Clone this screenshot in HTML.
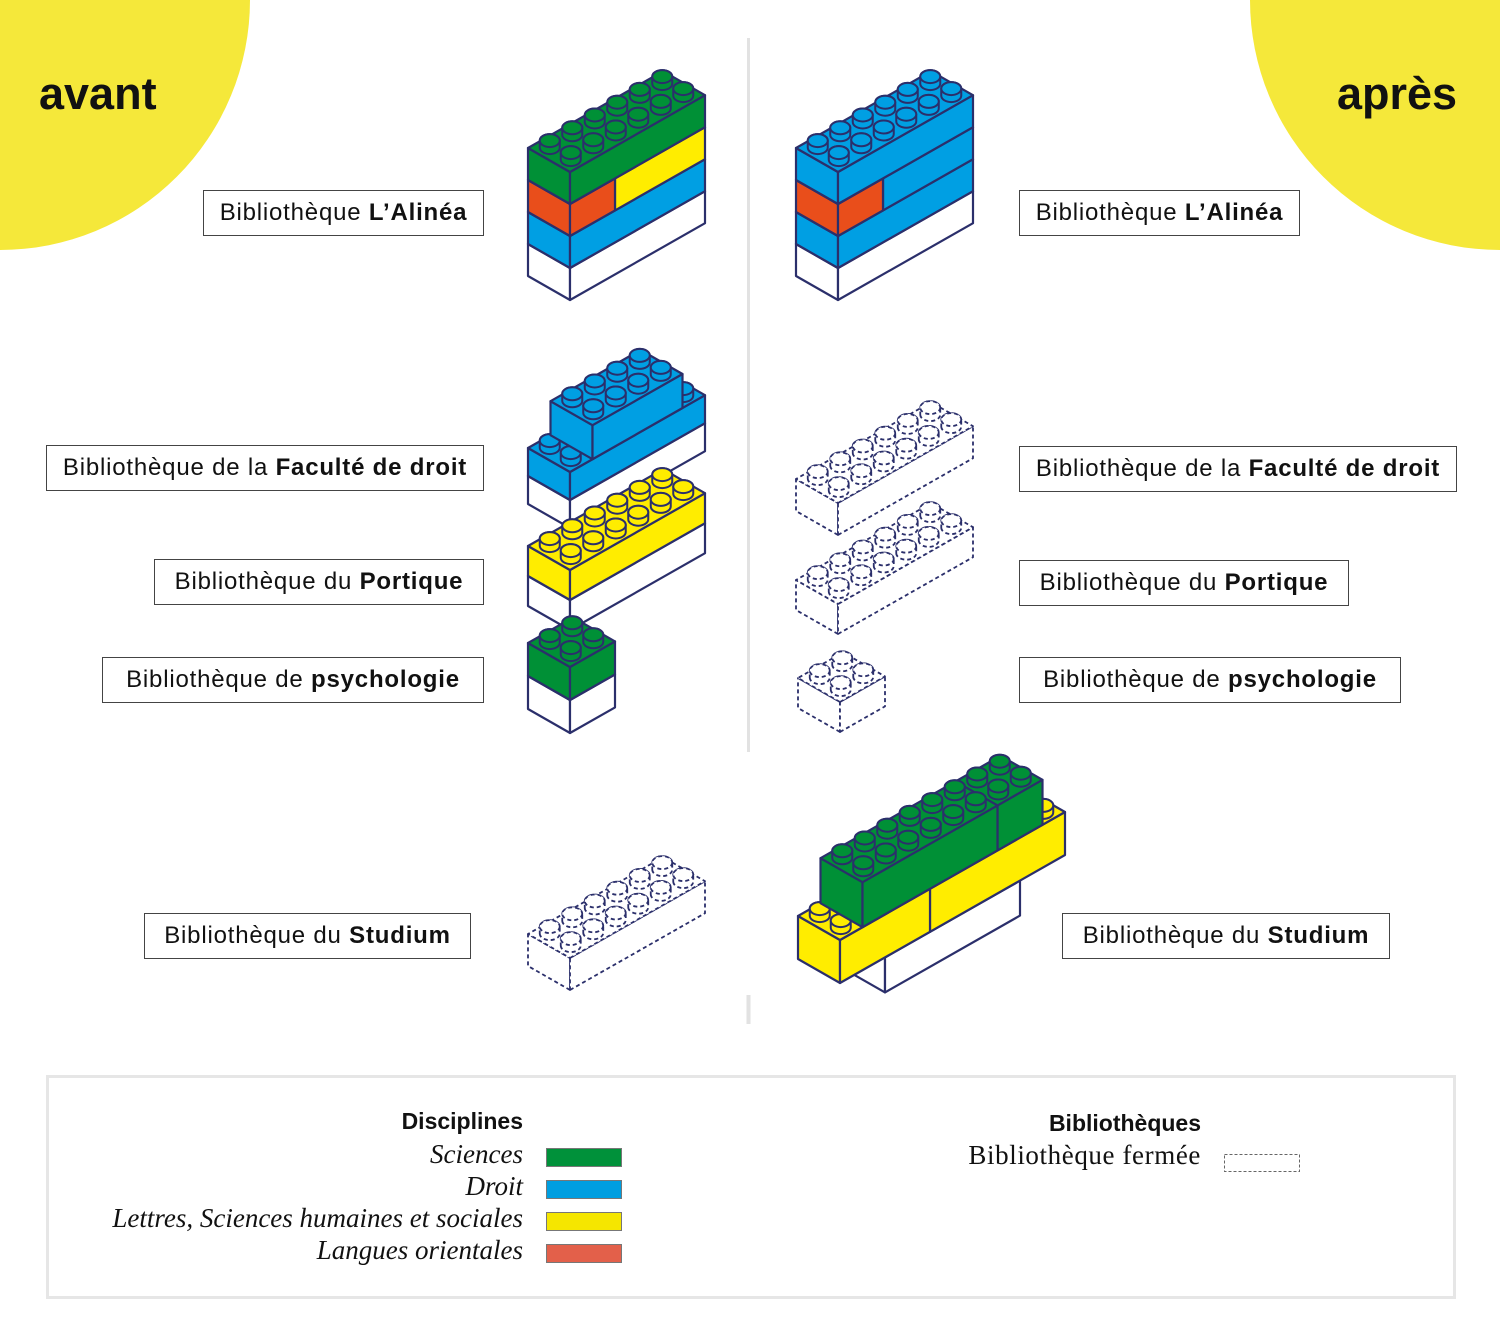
<!DOCTYPE html>
<html><head><meta charset="utf-8">
<style>
html,body{margin:0;padding:0;background:#fff;}
body{width:1500px;height:1333px;position:relative;overflow:hidden;font-family:"Liberation Sans",sans-serif;}
.lbl{position:absolute;border:1px solid #444;height:46px;box-sizing:border-box;font-size:24px;letter-spacing:0.8px;line-height:44px;text-align:center;color:#111;white-space:nowrap;background:#fff;}
.lbl b{font-weight:bold;}
.big{position:absolute;font-weight:bold;font-size:45px;color:#111;}
.lg{position:absolute;font-family:"Liberation Serif",serif;font-style:italic;font-size:27px;color:#111;text-align:right;white-space:nowrap;}
.sw{position:absolute;left:546px;width:74px;height:17px;border:1px solid #777;}
</style></head><body>
<svg id="s" width="1500" height="1333" style="position:absolute;left:0;top:0">
<circle cx="0" cy="0" r="250" fill="#f5e83a"/>
<circle cx="1500" cy="0" r="250" fill="#f5e83a"/>
<line x1="748.5" y1="38" x2="748.5" y2="752" stroke="#e2e2e2" stroke-width="3"/>
<line x1="748.5" y1="995" x2="748.5" y2="1024" stroke="#e2e2e2" stroke-width="4"/>
<rect x="47.5" y="1076.5" width="1407" height="221" fill="none" stroke="#e6e6e6" stroke-width="3"/>
<rect x="1224.5" y="1154.5" width="75" height="17" fill="none" stroke="#666" stroke-width="1" stroke-dasharray="3 2"/>
<g id="g"></g>
</svg>
<div class="big" style="left:39px;top:68px">avant</div>
<div class="big" style="left:1337px;top:68px">après</div>

<div class="lbl" style="left:203px;top:190px;width:281px">Bibliothèque <b>L’Alinéa</b></div>
<div class="lbl" style="left:46px;top:445px;width:438px">Bibliothèque de la <b>Faculté de droit</b></div>
<div class="lbl" style="left:154px;top:559px;width:330px">Bibliothèque du <b>Portique</b></div>
<div class="lbl" style="left:102px;top:657px;width:382px">Bibliothèque de <b>psychologie</b></div>
<div class="lbl" style="left:144px;top:913px;width:327px">Bibliothèque du <b>Studium</b></div>

<div class="lbl" style="left:1019px;top:190px;width:281px">Bibliothèque <b>L’Alinéa</b></div>
<div class="lbl" style="left:1019px;top:446px;width:438px">Bibliothèque de la <b>Faculté de droit</b></div>
<div class="lbl" style="left:1019px;top:560px;width:330px">Bibliothèque du <b>Portique</b></div>
<div class="lbl" style="left:1019px;top:657px;width:382px">Bibliothèque de <b>psychologie</b></div>
<div class="lbl" style="left:1062px;top:913px;width:328px">Bibliothèque du <b>Studium</b></div>

<div style="position:absolute;right:977px;top:1108px;font-weight:bold;font-size:23px;color:#111">Disciplines</div>
<div class="lg" style="right:977px;top:1139px">Sciences</div>
<div class="lg" style="right:977px;top:1171px">Droit</div>
<div class="lg" style="right:977px;top:1203px">Lettres, Sciences humaines et sociales</div>
<div class="lg" style="right:977px;top:1235px">Langues orientales</div>
<div class="sw" style="top:1148px;background:#00913a"></div>
<div class="sw" style="top:1180px;background:#009ee0"></div>
<div class="sw" style="top:1212px;background:#f5e600"></div>
<div class="sw" style="top:1244px;background:#e3604a"></div>
<div style="position:absolute;right:299px;top:1110px;font-weight:bold;font-size:23px;color:#111">Bibliothèques</div>
<div class="lg" style="right:299px;top:1140px;font-style:normal;letter-spacing:0.6px">Bibliothèque fermée</div>

<script>
var G=document.getElementById('g'),NS='http://www.w3.org/2000/svg';
var GR='#009036',BL='#009fe3',YE='#ffed00',OR='#e94e1b',WH='#ffffff',ST='#2b2f6b';
function P(F,a,b,z){return [F[0]+a*22.5-b*21,F[1]-a*12.8-b*12-z];}
function el(t,at){var e=document.createElementNS(NS,t);for(var k in at)e.setAttribute(k,at[k]);G.appendChild(e);return e;}
function poly(pts,fill,d){el('polygon',{points:pts.map(function(p){return p[0].toFixed(1)+','+p[1].toFixed(1)}).join(' '),fill:fill,stroke:ST,'stroke-width':d?1.8:2.2,'stroke-linejoin':'round','stroke-dasharray':d?'4 3':'none'});}
function box(F,a0,len,z0,h,col,studs,d,wid){wid=wid||2;
 poly([P(F,a0,0,z0),P(F,a0,wid,z0),P(F,a0,wid,z0+h),P(F,a0,0,z0+h)],col,d);
 poly([P(F,a0,0,z0),P(F,a0+len,0,z0),P(F,a0+len,0,z0+h),P(F,a0,0,z0+h)],col,d);
 poly([P(F,a0,0,z0+h),P(F,a0+len,0,z0+h),P(F,a0+len,wid,z0+h),P(F,a0,wid,z0+h)],col,d);
 if(studs){var L=[];for(var i=0;i<len;i++)for(var j=0;j<wid;j++)L.push(P(F,a0+i+0.5,j+0.5,z0+h));
  L.sort(function(p,q){return p[1]-q[1];});
  L.forEach(function(c){var rx=10,ry=6.5,sh=7,x=c[0],y=c[1];
   el('path',{d:'M'+(x-rx)+','+y+' A'+rx+' '+ry+' 0 0 0 '+(x+rx)+','+y+' L'+(x+rx)+','+(y-sh)+' A'+rx+' '+ry+' 0 0 0 '+(x-rx)+','+(y-sh)+' Z',fill:col,stroke:ST,'stroke-width':d?1.8:2,'stroke-dasharray':d?'4 3':'none'});
   el('ellipse',{cx:x,cy:y-sh,rx:rx,ry:ry,fill:col,stroke:ST,'stroke-width':d?1.8:2,'stroke-dasharray':d?'4 3':'none'});});}
}
var F=[570,300];
box(F,0,6,0,32,WH);box(F,0,6,32,32,BL);box(F,2,4,64,32,YE);box(F,0,2,64,32,OR);box(F,0,6,96,32,GR,1);
F=[838,300];
box(F,0,6,0,32,WH);box(F,0,6,32,32,BL);box(F,2,4,64,32,BL);box(F,0,2,64,32,OR);box(F,0,6,96,32,BL,1);
F=[570,528];
box(F,0,6,0,28,WH);box(F,0,6,28,28,BL,1);
box(P(F,1,0,56),0,4,0,34,BL,1);
F=[570,630];box(F,0,6,0,30,WH);box(F,0,6,30,30,YE,1);
F=[570,733];box(F,0,2,0,33,WH);box(F,0,2,33,33,GR,1);
box([570,990],0,6,0,32,WH,1,1);
box([838,535],0,6,0,32,WH,1,1);
box([838,634],0,6,0,30,WH,1,1);
box([840,732],0,2,0,30,WH,1,1);
var Fy=[840,983];
box(P(Fy,2,0,-35),0,6,0,35,WH);
box(Fy,4,6,0,43,YE,1);box(Fy,0,4,0,43,YE,1);
var Fg=P(Fy,1,0,43);
box(Fg,6,2,0,45,GR,1);box(Fg,0,6,0,45,GR,1);
</script>
</body></html>
